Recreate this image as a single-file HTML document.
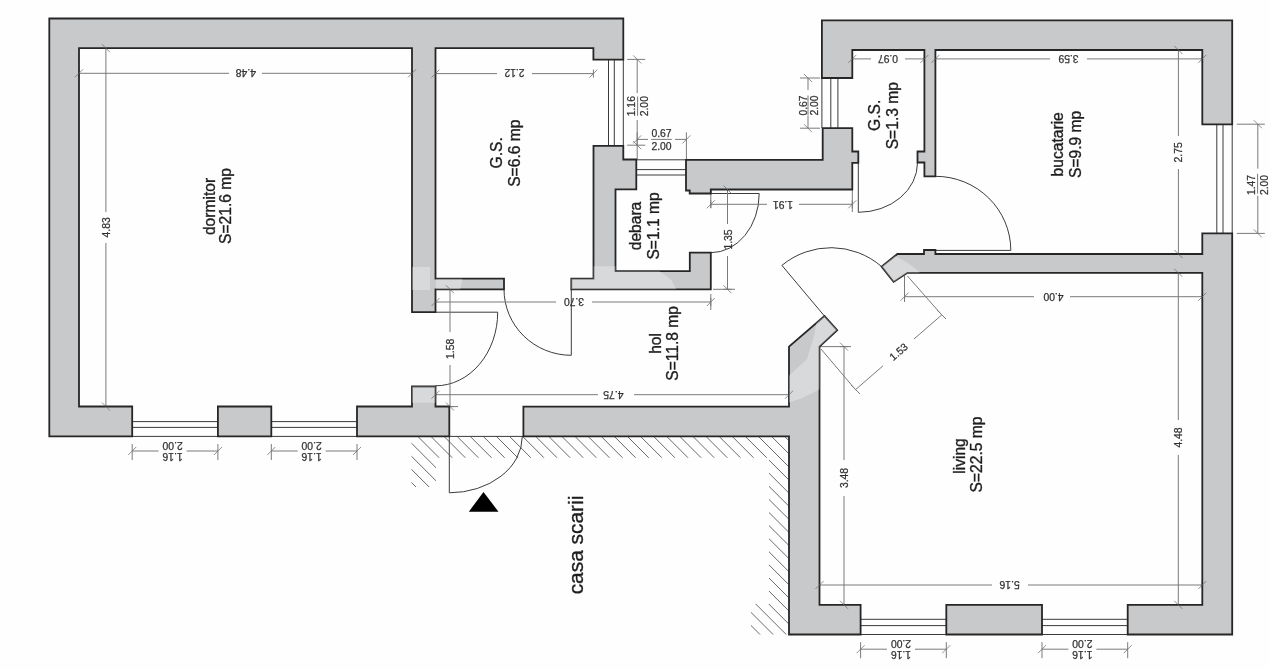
<!DOCTYPE html>
<html><head><meta charset="utf-8"><style>
html,body{margin:0;padding:0;background:#fefefe;width:1270px;height:670px;overflow:hidden;}
svg{display:block;filter:blur(0.35px);font-family:"Liberation Sans", sans-serif;}
</style></head><body>
<svg width="1270" height="670" viewBox="0 0 1270 670">
<defs><clipPath id="hc"><path d="M412.0 436.4 L789.0 436.4 L789.0 457.8 L412.0 457.8 Z"/><path d="M411.5 436.4 L436.0 436.4 L436.0 487.0 L411.5 487.0 Z"/><path d="M769.0 436.4 L789.0 436.4 L789.0 634.5 L769.0 634.5 Z"/><path d="M751.0 604.0 L789.0 604.0 L789.0 634.5 L751.0 634.5 Z"/></clipPath></defs>
<rect width="1270" height="670" fill="#fefefe"/>
<g clip-path="url(#hc)" stroke="#6a6a6a" stroke-width="1" fill="none"><path d="M257.3 420 L487.3 650 M270.4 420 L500.4 650 M283.5 420 L513.5 650 M296.6 420 L526.6 650 M309.7 420 L539.7 650 M322.8 420 L552.8 650 M335.9 420 L565.9 650 M349.0 420 L579.0 650 M362.1 420 L592.1 650 M375.2 420 L605.2 650 M388.3 420 L618.3 650 M401.4 420 L631.4 650 M414.5 420 L644.5 650 M427.6 420 L657.6 650 M440.7 420 L670.7 650 M453.8 420 L683.8 650 M466.9 420 L696.9 650 M480.0 420 L710.0 650 M493.1 420 L723.1 650 M506.2 420 L736.2 650 M519.3 420 L749.3 650 M532.4 420 L762.4 650 M545.5 420 L775.5 650 M558.6 420 L788.6 650 M571.7 420 L801.7 650 M584.8 420 L814.8 650 M597.9 420 L827.9 650 M611.0 420 L841.0 650 M624.1 420 L854.1 650 M637.2 420 L867.2 650 M650.3 420 L880.3 650 M663.4 420 L893.4 650 M676.5 420 L906.5 650 M689.6 420 L919.6 650 M702.7 420 L932.7 650 M715.8 420 L945.8 650 M728.9 420 L958.9 650 M742.0 420 L972.0 650 M755.1 420 L985.1 650 M768.2 420 L998.2 650 M781.3 420 L1011.3 650 M794.4 420 L1024.4 650 M807.5 420 L1037.5 650 M820.6 420 L1050.6 650 M833.7 420 L1063.7 650 M846.8 420 L1076.8 650 M859.9 420 L1089.9 650 M873.0 420 L1103.0 650 M886.1 420 L1116.1 650 M899.2 420 L1129.2 650 M912.3 420 L1142.3 650 M925.4 420 L1155.4 650 M938.5 420 L1168.5 650 M951.6 420 L1181.6 650 M964.7 420 L1194.7 650 M977.8 420 L1207.8 650 M990.9 420 L1220.9 650 M1004.0 420 L1234.0 650 M1017.1 420 L1247.1 650 M1030.2 420 L1260.2 650"/></g>
<path d="M608.5 59.6 L608.5 145.8 M614.3 59.6 L614.3 145.8 M623.3 59.6 L623.3 145.8 M636.3 159.8 L686 159.8 M636.3 169.6 L686 169.6 M636.3 175.0 L686 175.0 M821.9 78 L821.9 128.2 M830.8 78 L830.8 128.2 M837.9 78 L837.9 128.2 M1216.8 124.4 L1216.8 233.4 M1223.0 124.4 L1223.0 233.4 M1232.2 124.4 L1232.2 233.4 M132.2 421.6 L217.9 421.6 M132.2 427.4 L217.9 427.4 M132.2 436.4 L217.9 436.4 M271.3 421.6 L357 421.6 M271.3 427.4 L357 427.4 M271.3 436.4 L357 436.4 M860.6 619.3 L946.3 619.3 M860.6 625.6 L946.3 625.6 M860.6 634.5 L946.3 634.5 M1042 619.3 L1127.7 619.3 M1042 625.6 L1127.7 625.6 M1042 634.5 L1127.7 634.5 M449.3 436.4 L523.4 436.4" stroke="#3a3a3a" stroke-width="1" fill="none"/>
<path d="M435.5 312.2 L497.7 312.2 A62.2 73.6 0 0 1 435.5 385.8 M571.3 355.3 L571.3 289.3 M504 289.3 A67.3 66 0 0 0 571.3 355.3 M710.8 193.5 L759.2 193.5 A48.4 59.2 0 0 1 710.8 252.7 M858.3 162.8 L858.3 212.3 A59.2 49.5 0 0 0 917.5 162.8 M935.4 250.4 L1010.8 250.4 A75.4 74.1 0 0 0 935.4 176.3 M824.5 316.1 L781.9 265.4 A77 77 0 0 1 881.6 266.6 M449.3 436.4 L449.3 492.8 A73 56.4 0 0 0 522.3 436.4" stroke="#3c3c3c" stroke-width="1" fill="none"/>
<path d="M79 73.3 L229 73.3 M262 73.3 L412 73.3 M79 69.3 L79 77.3 M412 69.3 L412 77.3 M105.9 48.2 L105.9 212 M105.9 243 L105.9 406.5 M101.9 48.2 L109.9 48.2 M101.9 406.5 L109.9 406.5 M435.5 73.6 L497 73.6 M532 73.6 L593.4 73.6 M435.5 69.6 L435.5 77.6 M593.4 69.6 L593.4 77.6 M637.2 59.4 L637.2 93 M637.2 120 L637.2 145.2 M627.2 59.4 L645.2 59.4 M627.2 145.2 L645.2 145.2 M637.6 96.5 L637.6 115.8 M637.2 139.4 L648 139.4 M675 139.4 L686.4 139.4 M637.2 132.4 L637.2 159.4 M686.4 132.4 L686.4 159.4 M651.2 139.4 L671.8 139.4 M808 78 L808 90 M808 116 L808 128.2 M800 78 L820 78 M800 128.2 L820 128.2 M808 95.5 L808 115.5 M852.3 58.9 L871 58.9 M905 58.9 L924.4 58.9 M852.3 54.9 L852.3 62.9 M924.4 54.9 L924.4 62.9 M935.4 58.9 L1050 58.9 M1087 58.9 L1202.3 58.9 M935.4 54.9 L935.4 62.9 M1202.3 54.9 L1202.3 62.9 M1178.4 50 L1178.4 136 M1178.4 169 L1178.4 254 M1174.4 50 L1182.4 50 M1174.4 254 L1182.4 254 M1257.8 124.2 L1257.8 168.6 M1257.8 195.8 L1257.8 233.4 M1236.8 124.2 L1264.8 124.2 M1236.8 233.4 L1264.8 233.4 M1257.6 173.8 L1257.6 193.7 M710.8 204.3 L767 204.3 M799 204.3 L852.3 204.3 M710.8 200.3 L710.8 208.3 M852.3 200.3 L852.3 208.3 M727.5 189.5 L727.5 224 M727.5 256 L727.5 289.3 M723.5 189.5 L731.5 189.5 M723.5 289.3 L731.5 289.3 M435.5 302 L556 302 M592 302 L710.8 302 M435.5 298 L435.5 306 M710.8 298 L710.8 306 M450 289.3 L450 332 M450 365 L450 406.6 M446 289.3 L454 289.3 M446 406.6 L454 406.6 M435.5 394.7 L598 394.7 M634 394.7 L789 394.7 M435.5 390.7 L435.5 398.7 M789 390.7 L789 398.7 M904.5 296.7 L1034 296.7 M1070 296.7 L1202.3 296.7 M904.5 292.7 L904.5 300.7 M1202.3 292.7 L1202.3 300.7 M844 346.6 L844 460 M844 496 L844 604.8 M840 346.6 L848 346.6 M840 604.8 L848 604.8 M819.5 585 L992 585 M1028 585 L1202.3 585 M819.5 581 L819.5 589 M1202.3 581 L1202.3 589 M1178.3 272.8 L1178.3 420 M1178.3 455 L1178.3 604.8 M1174.3 272.8 L1182.3 272.8 M1174.3 604.8 L1182.3 604.8 M132.2 451 L158.55 451 M186.55 451 L217.9 451 M132.2 444 L132.2 460 M217.9 444 L217.9 460 M271.3 451 L297.65 451 M325.65 451 L357 451 M271.3 444 L271.3 460 M357 444 L357 460 M860.6 649.2 L886.95 649.2 M914.95 649.2 L946.3 649.2 M860.6 642.2 L860.6 658.2 M946.3 642.2 L946.3 658.2 M1042 649.2 L1068.35 649.2 M1096.35 649.2 L1127.7 649.2 M1042 642.2 L1042 658.2 M1127.7 642.2 L1127.7 658.2 M821 349 L855.5 389.7 M907.5 276 L941.8 315 M855.5 389.7 L883 365.8 M914 339 L941.8 314.9 M851 385 L860 394 M937 310 L946 319 M904.5 276 L904.5 302 M820 346.6 L851 346.6 M710.8 191 L710.8 208 M852.3 190 L852.3 212 M713 289.3 L735 289.3 M436 289.3 L458 289.3 M440 406.6 L458 406.6 M710.8 294 L710.8 310 M435.5 294 L435.5 310" stroke="#7a7a7a" stroke-width="1" fill="none"/>
<path d="M49.3 18.5 L623.3 18.5 L623.3 59.6 L593.4 59.6 L593.4 48.2 L435.5 48.2 L435.5 278.7 L504.0 278.7 L504.0 289.3 L435.5 289.3 L435.5 312.2 L412.0 312.2 L412.0 48.2 L79.0 48.2 L79.0 406.5 L132.2 406.5 L132.2 436.4 L49.3 436.4 Z" fill="#c8c9cb" stroke="#262626" stroke-width="1.8" stroke-linejoin="miter"/>
<path d="M217.9 406.5 L271.3 406.5 L271.3 436.4 L217.9 436.4 Z" fill="#c8c9cb" stroke="#262626" stroke-width="1.8" stroke-linejoin="miter"/>
<path d="M357.0 406.5 L412.0 406.5 L412.0 386.5 L435.5 386.5 L435.5 406.5 L449.3 406.5 L449.3 436.4 L357.0 436.4 Z" fill="#c8c9cb" stroke="#262626" stroke-width="1.8" stroke-linejoin="miter"/>
<path d="M523.4 406.6 L789.0 406.6 L789.0 346.6 L824.5 316.1 L837.2 330.1 L819.5 346.6 L819.5 604.8 L860.6 604.8 L860.6 634.5 L789.0 634.5 L789.0 436.4 L523.4 436.4 Z" fill="#c8c9cb" stroke="#262626" stroke-width="1.8" stroke-linejoin="miter"/>
<path d="M946.3 604.8 L1042.0 604.8 L1042.0 634.5 L946.3 634.5 Z" fill="#c8c9cb" stroke="#262626" stroke-width="1.8" stroke-linejoin="miter"/>
<path d="M1127.7 604.8 L1202.3 604.8 L1202.3 272.8 L907.5 272.8 L893.6 281.9 L881.6 266.6 L897.4 254.0 L924.0 254.0 L924.0 250.0 L935.4 250.0 L935.4 254.0 L1202.3 254.0 L1202.3 233.4 L1232.2 233.4 L1232.2 634.5 L1127.7 634.5 Z" fill="#c8c9cb" stroke="#262626" stroke-width="1.8" stroke-linejoin="miter"/>
<path d="M821.9 20.3 L1232.2 20.3 L1232.2 124.4 L1202.3 124.4 L1202.3 50.0 L935.4 50.0 L935.4 176.3 L924.4 176.3 L924.4 162.5 L917.5 162.5 L917.5 151.5 L924.4 151.5 L924.4 50.0 L852.3 50.0 L852.3 78.0 L821.9 78.0 Z" fill="#c8c9cb" stroke="#262626" stroke-width="1.8" stroke-linejoin="miter"/>
<path d="M686.0 159.8 L822.7 159.8 L822.7 128.2 L852.3 128.2 L852.3 151.5 L858.3 151.5 L858.3 162.8 L852.3 162.8 L852.3 189.5 L710.8 189.5 L710.8 193.5 L689.7 193.5 L689.7 190.5 L686.0 190.5 Z" fill="#c8c9cb" stroke="#262626" stroke-width="1.8" stroke-linejoin="miter"/>
<path d="M593.5 145.8 L623.3 145.8 L623.3 159.5 L636.3 159.5 L636.3 189.4 L615.5 189.4 L615.5 271.2 L689.8 271.2 L689.8 252.7 L710.8 252.7 L710.8 289.3 L571.3 289.3 L571.3 278.7 L593.5 278.7 Z" fill="#c8c9cb" stroke="#262626" stroke-width="1.8" stroke-linejoin="miter"/>
<defs><clipPath id="wc"><path d="M49.3 18.5 L623.3 18.5 L623.3 59.6 L593.4 59.6 L593.4 48.2 L435.5 48.2 L435.5 278.7 L504.0 278.7 L504.0 289.3 L435.5 289.3 L435.5 312.2 L412.0 312.2 L412.0 48.2 L79.0 48.2 L79.0 406.5 L132.2 406.5 L132.2 436.4 L49.3 436.4 Z"/><path d="M217.9 406.5 L271.3 406.5 L271.3 436.4 L217.9 436.4 Z"/><path d="M357.0 406.5 L412.0 406.5 L412.0 386.5 L435.5 386.5 L435.5 406.5 L449.3 406.5 L449.3 436.4 L357.0 436.4 Z"/><path d="M523.4 406.6 L789.0 406.6 L789.0 346.6 L824.5 316.1 L837.2 330.1 L819.5 346.6 L819.5 604.8 L860.6 604.8 L860.6 634.5 L789.0 634.5 L789.0 436.4 L523.4 436.4 Z"/><path d="M946.3 604.8 L1042.0 604.8 L1042.0 634.5 L946.3 634.5 Z"/><path d="M1127.7 604.8 L1202.3 604.8 L1202.3 272.8 L907.5 272.8 L893.6 281.9 L881.6 266.6 L897.4 254.0 L924.0 254.0 L924.0 250.0 L935.4 250.0 L935.4 254.0 L1202.3 254.0 L1202.3 233.4 L1232.2 233.4 L1232.2 634.5 L1127.7 634.5 Z"/><path d="M821.9 20.3 L1232.2 20.3 L1232.2 124.4 L1202.3 124.4 L1202.3 50.0 L935.4 50.0 L935.4 176.3 L924.4 176.3 L924.4 162.5 L917.5 162.5 L917.5 151.5 L924.4 151.5 L924.4 50.0 L852.3 50.0 L852.3 78.0 L821.9 78.0 Z"/><path d="M686.0 159.8 L822.7 159.8 L822.7 128.2 L852.3 128.2 L852.3 151.5 L858.3 151.5 L858.3 162.8 L852.3 162.8 L852.3 189.5 L710.8 189.5 L710.8 193.5 L689.7 193.5 L689.7 190.5 L686.0 190.5 Z"/><path d="M593.5 145.8 L623.3 145.8 L623.3 159.5 L636.3 159.5 L636.3 189.4 L615.5 189.4 L615.5 271.2 L689.8 271.2 L689.8 252.7 L710.8 252.7 L710.8 289.3 L571.3 289.3 L571.3 278.7 L593.5 278.7 Z"/></clipPath></defs>
<g clip-path="url(#wc)" fill="#fff" fill-opacity="0.3"><path d="M411.0 267.1 L430.0 267.1 L430.0 290.0 L411.0 290.0 Z"/><path d="M411.0 385.0 L437.0 385.0 L437.0 402.7 L411.0 402.7 Z"/><path d="M436.0 277.0 L463.0 277.0 L460.0 290.0 L436.0 290.0 Z"/><path d="M560.0 266.3 L645.0 266.3 L659.2 271.0 L671.4 280.0 L676.6 290.0 L560.0 290.0 Z"/><path d="M789.0 375.7 L806.9 359.3 L814.3 335.4 L818.0 312.0 L842.0 312.0 L842.0 389.1 L820.3 389.1 L802.4 398.0 L789.0 402.5 Z"/><path d="M875.0 248.0 L893.0 248.0 L896.0 256.5 L908.0 263.0 L919.5 272.0 L919.5 290.0 L875.0 290.0 Z"/></g>
<path d="M75 77.3 L83 69.3 M408 77.3 L416 69.3 M101.9 44.2 L109.9 52.2 M101.9 402.5 L109.9 410.5 M431.5 77.6 L439.5 69.6 M589.4 77.6 L597.4 69.6 M633.2 55.4 L641.2 63.4 M633.2 141.2 L641.2 149.2 M633.2 143.4 L641.2 135.4 M682.4 143.4 L690.4 135.4 M804 74 L812 82 M804 124.19999999999999 L812 132.2 M848.3 62.9 L856.3 54.9 M920.4 62.9 L928.4 54.9 M931.4 62.9 L939.4 54.9 M1198.3 62.9 L1206.3 54.9 M1174.4 46 L1182.4 54 M1174.4 250 L1182.4 258 M1253.8 120.2 L1261.8 128.2 M1253.8 229.4 L1261.8 237.4 M706.8 208.3 L714.8 200.3 M848.3 208.3 L856.3 200.3 M723.5 185.5 L731.5 193.5 M723.5 285.3 L731.5 293.3 M431.5 306 L439.5 298 M706.8 306 L714.8 298 M446 285.3 L454 293.3 M446 402.6 L454 410.6 M431.5 398.7 L439.5 390.7 M785 398.7 L793 390.7 M900.5 300.7 L908.5 292.7 M1198.3 300.7 L1206.3 292.7 M840 342.6 L848 350.6 M840 600.8 L848 608.8 M815.5 589 L823.5 581 M1198.3 589 L1206.3 581 M1174.3 268.8 L1182.3 276.8 M1174.3 600.8 L1182.3 608.8 M128.2 455 L136.2 447 M213.9 455 L221.9 447 M267.3 455 L275.3 447 M353 455 L361 447 M856.6 653.2 L864.6 645.2 M942.3 653.2 L950.3 645.2 M1038 653.2 L1046 645.2 M1123.7 653.2 L1131.7 645.2" stroke="#6a6a6a" stroke-width="1" fill="none" stroke-opacity="0.75"/>
<path d="M483.5 492 L498.5 511.8 L468.8 511.8 Z" fill="#000"/>
<g font-family="Liberation Sans, sans-serif" stroke="#333" stroke-width="0.25"><text transform="translate(245.8,69.2) rotate(180)" font-size="10.4" fill="#333" text-anchor="middle">4.48</text><text transform="translate(110.4,227.3) rotate(-90)" font-size="10.4" fill="#333" text-anchor="middle">4.83</text><text transform="translate(514.5,69.4) rotate(180)" font-size="10.4" fill="#333" text-anchor="middle">2.12</text><text transform="translate(635.3,106.2) rotate(-90)" font-size="10.4" fill="#333" text-anchor="middle">1.16</text><text transform="translate(647.8,106.2) rotate(-90)" font-size="10.4" fill="#333" text-anchor="middle">2.00</text><text transform="translate(661.5,137.2)" font-size="10.4" fill="#333" text-anchor="middle">0.67</text><text transform="translate(661.5,150.0)" font-size="10.4" fill="#333" text-anchor="middle">2.00</text><text transform="translate(806.5,105.5) rotate(-90)" font-size="10.4" fill="#333" text-anchor="middle">0.67</text><text transform="translate(818.3,105.5) rotate(-90)" font-size="10.4" fill="#333" text-anchor="middle">2.00</text><text transform="translate(888.0,54.8) rotate(180)" font-size="10.4" fill="#333" text-anchor="middle">0.97</text><text transform="translate(1068.5,54.8) rotate(180)" font-size="10.4" fill="#333" text-anchor="middle">3.59</text><text transform="translate(1182.4,152.3) rotate(-90)" font-size="10.4" fill="#333" text-anchor="middle">2.75</text><text transform="translate(1255.3,185.0) rotate(-90)" font-size="10.4" fill="#333" text-anchor="middle">1.47</text><text transform="translate(1267.9,185.0) rotate(-90)" font-size="10.4" fill="#333" text-anchor="middle">2.00</text><text transform="translate(783.0,200.5) rotate(180)" font-size="10.4" fill="#333" text-anchor="middle">1.91</text><text transform="translate(731.5,239.5) rotate(-90)" font-size="10.4" fill="#333" text-anchor="middle">1.35</text><text transform="translate(574.0,298.0) rotate(180)" font-size="10.4" fill="#333" text-anchor="middle">3.70</text><text transform="translate(454.0,348.8) rotate(-90)" font-size="10.4" fill="#333" text-anchor="middle">1.58</text><text transform="translate(613.3,390.7) rotate(180)" font-size="10.4" fill="#333" text-anchor="middle">4.75</text><text transform="translate(1053.5,292.7) rotate(180)" font-size="10.4" fill="#333" text-anchor="middle">4.00</text><text transform="translate(848.0,478.0) rotate(-90)" font-size="10.4" fill="#333" text-anchor="middle">3.48</text><text transform="translate(1009.6,581.0) rotate(180)" font-size="10.4" fill="#333" text-anchor="middle">5.16</text><text transform="translate(1182.3,437.5) rotate(-90)" font-size="10.4" fill="#333" text-anchor="middle">4.48</text><text transform="translate(172.6,441.7) rotate(180)" font-size="10.4" fill="#333" text-anchor="middle">2.00</text><text transform="translate(172.6,453.0) rotate(180)" font-size="10.4" fill="#333" text-anchor="middle">1.16</text><text transform="translate(311.6,441.7) rotate(180)" font-size="10.4" fill="#333" text-anchor="middle">2.00</text><text transform="translate(311.6,453.0) rotate(180)" font-size="10.4" fill="#333" text-anchor="middle">1.16</text><text transform="translate(901.0,639.9) rotate(180)" font-size="10.4" fill="#333" text-anchor="middle">2.00</text><text transform="translate(901.0,651.2) rotate(180)" font-size="10.4" fill="#333" text-anchor="middle">1.16</text><text transform="translate(1082.3,639.9) rotate(180)" font-size="10.4" fill="#333" text-anchor="middle">2.00</text><text transform="translate(1082.3,651.2) rotate(180)" font-size="10.4" fill="#333" text-anchor="middle">1.16</text><text transform="translate(901.0,354.5) rotate(-41)" font-size="10.4" fill="#333" text-anchor="middle">1.53</text></g>
<g font-family="Liberation Sans, sans-serif" fill="#1e1e1e" stroke="#1e1e1e" stroke-width="0.35"><text transform="translate(215.0,206.5) rotate(-90)" font-size="15.6" text-anchor="middle">dormitor</text><text transform="translate(231.4,206.0) rotate(-90)" font-size="15.6" text-anchor="middle">S=21.6 mp</text><text transform="translate(501.7,152.8) rotate(-90)" font-size="15.6" text-anchor="middle">G.S.</text><text transform="translate(519.8,153.2) rotate(-90)" font-size="15.6" text-anchor="middle">S=6.6 mp</text><text transform="translate(641.0,226.0) rotate(-90)" font-size="15.6" text-anchor="middle">debara</text><text transform="translate(659.3,226.0) rotate(-90)" font-size="15.6" text-anchor="middle">S=1.1 mp</text><text transform="translate(879.5,115.3) rotate(-90)" font-size="15.6" text-anchor="middle">G.S.</text><text transform="translate(897.6,115.7) rotate(-90)" font-size="15.6" text-anchor="middle">S=1.3 mp</text><text transform="translate(1062.8,144.3) rotate(-90)" font-size="15.6" text-anchor="middle">bucatarie</text><text transform="translate(1081.1,144.3) rotate(-90)" font-size="15.6" text-anchor="middle">S=9.9 mp</text><text transform="translate(660.6,343.4) rotate(-90)" font-size="15.6" text-anchor="middle">hol</text><text transform="translate(678.3,343.4) rotate(-90)" font-size="15.6" text-anchor="middle">S=11.8 mp</text><text transform="translate(964.5,456.0) rotate(-90)" font-size="15.6" text-anchor="middle">living</text><text transform="translate(982.2,454.5) rotate(-90)" font-size="15.6" text-anchor="middle">S=22.5 mp</text><text transform="translate(583.1,545.0) rotate(-90)" font-size="20.9" text-anchor="middle">casa scarii</text></g>
</svg>
</body></html>
